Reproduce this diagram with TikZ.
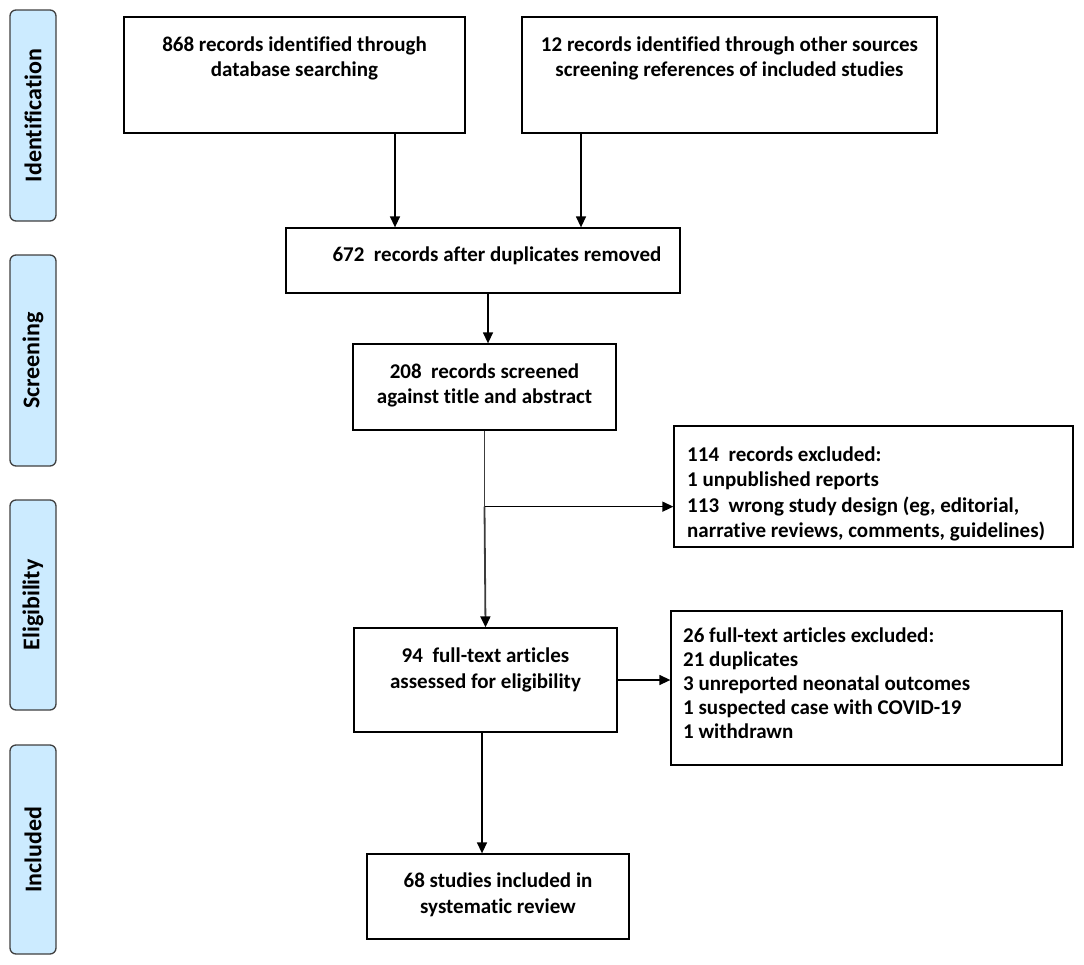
\documentclass[tikz,border=0pt]{standalone}
\usepackage{fontspec}
\setmainfont{Carlito}[Ligatures={NoCommon}]
\usetikzlibrary{arrows.meta,calc}
\definecolor{sidefill}{HTML}{CCEBFF}
\definecolor{sidedraw}{HTML}{404040}
\definecolor{trunk}{HTML}{3C3C3C}
\begin{document}
\begin{tikzpicture}[x=1pt,y=-1pt,
  box/.style={draw=black,line width=1.3pt,inner sep=0pt,rectangle},
  txt/.style={font=\bfseries\fontsize{21}{25.6}\selectfont,align=center,inner sep=0pt},
  ltxt/.style={font=\bfseries\fontsize{21}{25.6}\selectfont,align=left,inner sep=0pt,anchor=west},
  side/.style={draw=sidedraw,fill=sidefill,line width=1.3pt,rounded corners=6pt,minimum width=46pt,inner sep=0pt},
  sidetxt/.style={font=\bfseries\fontsize{24}{28}\selectfont,rotate=90,inner sep=0pt},
  arr/.style={line width=1.4pt,-{Triangle[length=11pt,width=10pt]}},
  garr/.style={draw=trunk,line width=1.8pt}]
\useasboundingbox (0,0) rectangle (1084,964);
% side labels
\node[side,minimum height=211pt] (sI) at (33,115.5) {};
\node[sidetxt] (tI) at (33,115.5) {Identification};
\node[side,minimum height=211pt] (sS) at (33,360.5) {};
\node[sidetxt] (tS) at (33,360.5) {Screening};
\node[side,minimum height=210pt] (sE) at (33,605) {};
\node[sidetxt] (tE) at (33,605) {Eligibility};
\node[side,minimum height=209pt] (sN) at (33,849.5) {};
\node[sidetxt] (tN) at (33,849.5) {Included};
% boxes
\node[box,minimum width=341pt,minimum height=116pt] (A) at (294.5,75) {};
\node[txt] (tA) at (294.5,58.5) {868 records identified through\\database searching};
\node[box,minimum width=415pt,minimum height=116pt] (B) at (729.5,75) {};
\node[txt] (tB) at (729.5,58.5) {12 records identified through other sources\\screening references of included studies};
\node[box,minimum width=394pt,minimum height=65pt] (C) at (483,260.5) {};
\node[txt] (tC) at (497,256) {672\ \ records after duplicates removed};
\node[box,minimum width=263pt,minimum height=86pt] (D) at (484.5,387) {};
\node[txt] (tD) at (484.5,385.5) {208\ \ records screened\\against title and abstract};
\node[box,minimum width=399pt,minimum height=121pt] (E) at (873.5,486.5) {};
\node[ltxt] (tE2) at (687,494) {114\ \ records excluded:\\1 unpublished reports\\113\ \ wrong study design (eg, editorial,\\narrative reviews, comments, guidelines)};
\node[box,minimum width=263pt,minimum height=104pt] (F) at (485.5,680) {};
\node[txt] (tF) at (485.5,670) {94\ \ full-text articles\\assessed for eligibility};
\node[box,minimum width=391pt,minimum height=154pt] (G) at (866.5,688) {};
\node[ltxt,font=\bfseries\fontsize{21}{24}\selectfont] (tG) at (683,683) {26 full-text articles excluded:\\21 duplicates\\3 unreported neonatal outcomes\\1 suspected case with COVID-19\\1 withdrawn};
\node[box,minimum width=262pt,minimum height=85pt] (H) at (498,896.5) {};
\node[txt] (tH) at (498,895) {68 studies included in\\systematic review};
% connectors
\draw[arr] ([xshift=100.5pt]A.south) -- ([xshift=100.5pt]A.south |- C.north);
\draw[arr] ([xshift=-148.5pt]B.south) -- ([xshift=-148.5pt]B.south |- C.north);
\draw[arr] ([xshift=5pt]C.south) -- ([xshift=5pt]C.south |- D.north);
\coordinate (br) at ([yshift=-76pt]D.south);
\draw[garr] (D.south) -- (br);
\draw[garr,-{Triangle[length=11pt,width=10pt,color=black]}] (br) -- (F.north);
\draw[arr] (br) -- (br -| E.west);
\draw[arr] (F.east) -- (F.east -| G.west);
\draw[arr] ([xshift=-3.5pt]F.south) -- ([xshift=-3.5pt]F.south |- H.north);
\end{tikzpicture}
\end{document}
